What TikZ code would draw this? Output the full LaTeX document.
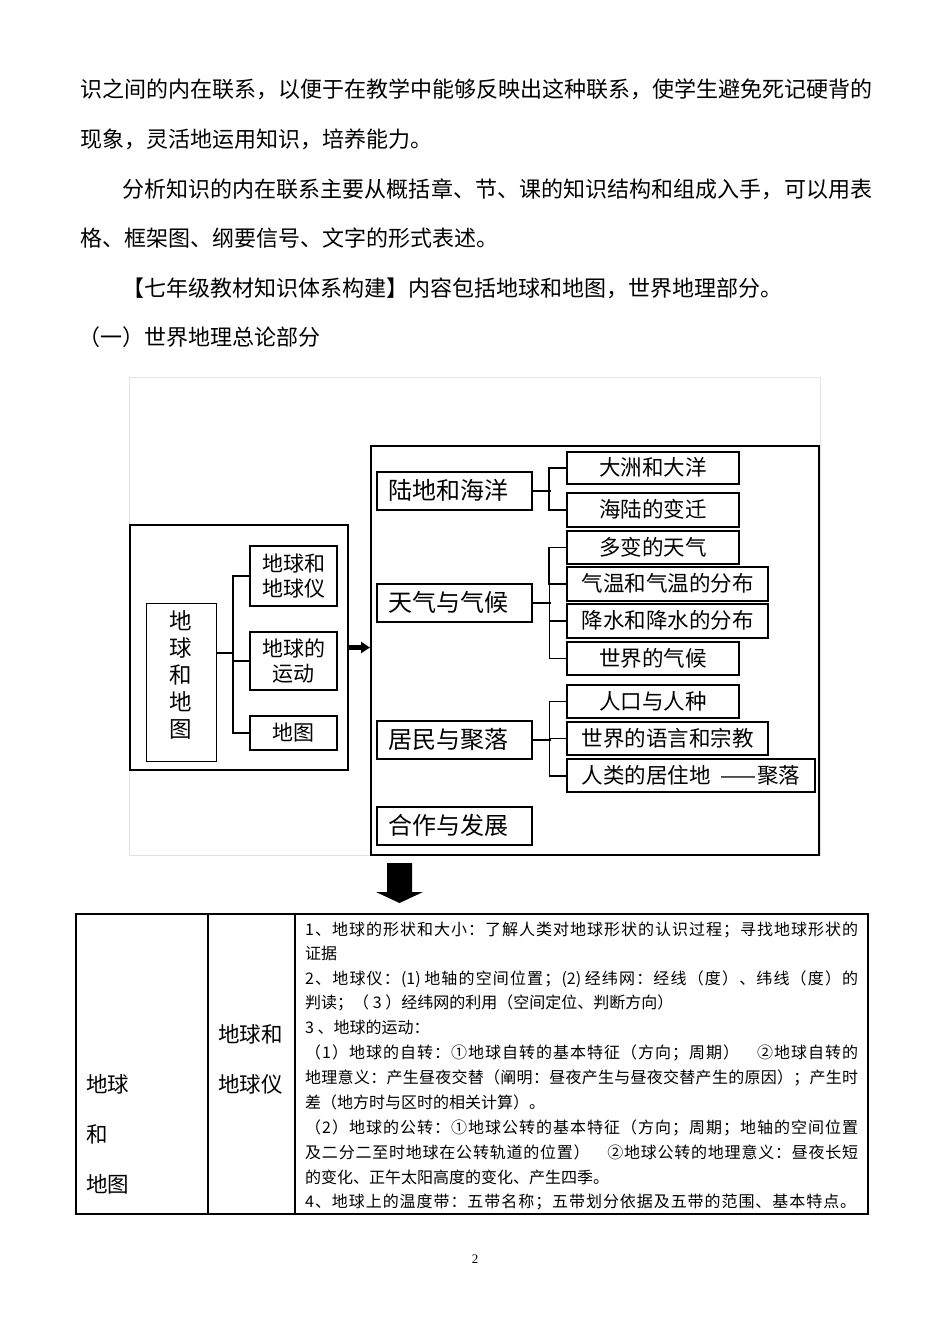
\documentclass[tikz,border=0pt]{standalone}
\usepackage{fontspec}
\setmainfont{Noto Sans CJK SC}
\newfontfamily\serifnum{Liberation Serif}
\usetikzlibrary{arrows.meta}
\newcount\cjkc
\def\setcls#1#2{\cjkc=#1 \loop\XeTeXcharclass\cjkc=1 \advance\cjkc by 1 \ifnum\cjkc<#2 \repeat}
\setcls{"4E00}{"A000}
\setcls{"3000}{"3040}
\setcls{"FF00}{"FFF0}
\setcls{"2460}{"2474}
\XeTeXinterchartoks 1 1 = {\hskip 0pt plus 1fil}
\XeTeXinterchartoks 0 1 = {\hskip 0pt plus 1fil}
\XeTeXinterchartoks 1 0 = {\hskip 0pt plus 1fil}
\newcommand\jl[2]{\hbox to #1pt{\XeTeXinterchartokenstate=1 #2}}
\newcommand\fs[2]{\fontsize{#1}{#2}\selectfont}
\tikzset{
  frame/.style={draw, inner sep=0pt},
  bx/.style={draw, line width=1.3pt, inner sep=0pt, align=center},
  cat/.style={draw, line width=1.4pt, inner ysep=0pt, inner xsep=11pt, text width=133pt, align=left,
     minimum height=38pt, font=\fs{24}{28}, text height=20.4pt, text depth=3.6pt},
  sub/.style={draw, line width=1.3pt, inner sep=0pt, font=\fs{21.5}{25}, text height=18.3pt, text depth=3.2pt},
  conn/.style={line width=1.3pt},
  para/.style={anchor=west, inner sep=0pt, font=\fs{22}{26}, text height=18.7pt, text depth=3.3pt},
  tl/.style={anchor=west, inner sep=0pt, font=\fs{16}{19}, text height=13.6pt, text depth=2.4pt},
  cell/.style={draw, line width=1.1pt, inner sep=0pt},
}
\begin{document}
\begin{tikzpicture}[x=1pt,y=-1pt]
\fill[white] (0,0) rectangle (950,1344);
\useasboundingbox (0,0) rectangle (950,1344);

% paragraph text
\node[para] (p1) at (80,90) {\jl{792}{识之间的内在联系，以便于在教学中能够反映出这种联系，使学生避免死记硬背的}};
\node[para] (p2) at (80,140) {现象，灵活地运用知识，培养能力。};
\node[para] (p3) at (122,189.5) {\jl{750}{分析知识的内在联系主要从概括章、节、课的知识结构和组成入手，可以用表}};
\node[para] (p4) at (80,239) {格、框架图、纲要信号、文字的形式表述。};
\node[para] (p5) at (122,289) {【七年级教材知识体系构建】内容包括地球和地图，世界地理部分。};
\node[para] (p6) at (78,338) {（一）世界地理总论部分};

% faint frame
\draw[gray!22, line width=0.8pt] (129,377) rectangle (820,855);

% left group
\node[frame, line width=1.6pt, minimum width=218pt, minimum height=245pt] (lg) at (239,647.5) {};
\node[frame, line width=0.9pt, minimum width=70pt, minimum height=158pt] (dq) at (181,682) {};
\node[inner sep=0pt, align=center, font=\fs{22.5}{27}] (dqt) at (181,675) {地\\球\\和\\地\\图};
\node[bx, minimum width=87pt, minimum height=60pt, font=\fs{21}{25}] (dqy) at (293.5,576) {地球和\\地球仪};
\node[bx, minimum width=87pt, minimum height=58pt, font=\fs{21}{25}] (dqyd) at (293.5,661) {地球的\\运动};
\node[bx, minimum width=87pt, minimum height=34pt, font=\fs{21}{25}, text height=17.9pt, text depth=3.1pt] (dt) at (293.5,733) {地图};
\coordinate (j0) at (233,653);
\draw[conn] (dq.east |- j0) -- (j0);
\draw[conn] (dqy.west) -- (dqy.west -| j0) -- (dt.west -| j0) -- (dt.west);
\draw[line width=2pt] (dqyd.west) -- (dqyd.west -| j0);

% big box
\node[frame, line width=2pt, minimum width=448pt, minimum height=409pt] (big) at (595,650.5) {};
\draw[line width=4.5pt, -{Triangle[length=9pt,width=11pt]}] (lg.east) -- (lg.east -| big.west);

% categories
\node[cat] (c1) at (454.5,491) {陆地和海洋};
\node[cat] (c2) at (454.5,603) {天气与气候};
\node[cat] (c3) at (454.5,740) {居民与聚落};
\node[cat] (c4) at (454.5,826) {合作与发展};

% sub boxes
\node[sub, minimum width=172pt, minimum height=32pt] (s1) at (653,468) {大洲和大洋};
\node[sub, minimum width=172pt, minimum height=34pt] (s2) at (653,510) {海陆的变迁};
\node[sub, minimum width=172pt, minimum height=33pt] (s3) at (653,547.5) {多变的天气};
\node[sub, line width=1.8pt, minimum width=201pt, minimum height=34pt] (s4) at (667.5,584) {气温和气温的分布};
\node[sub, minimum width=201pt, minimum height=34pt] (s5) at (667.5,621) {降水和降水的分布};
\node[sub, minimum width=172pt, minimum height=33pt] (s6) at (653,658.5) {世界的气候};
\node[sub, minimum width=172pt, minimum height=33pt] (s7) at (653,701.5) {人口与人种};
\node[sub, minimum width=201pt, minimum height=33pt] (s8) at (667.5,738.5) {世界的语言和宗教};
\node[sub, line width=1.8pt, minimum width=248pt, minimum height=33pt] (s9) at (691,775.5) {人类的居住地\hspace{10pt}——聚落};

% connectors
\draw[line width=1.8pt] (c1.east) -- ++(18,0);
\draw[line width=1.8pt] (s1.west) -- ++(-17,0) |- (s2.west);
\draw[conn] (c2.east) -- ++(18,0);
\draw[line width=1.8pt] (s3.west) -- ++(-17,0) -- ++(0,37);
\draw[conn] (s3.west) ++(-17,37) |- (s6.west);
\draw[line width=1.8pt] (s4.west) -- ++(-17,0);
\draw[conn] (s5.west) -- ++(-17,0);
\draw[conn] (c3.east) -- ++(18,0);
\draw[conn] (s7.west) -- ++(-17,0) |- (s9.west);
\draw[conn] (s8.west) -- ++(-17,0);
\draw[line width=2pt] (s9.west) -- ++(-17,0);

% big down arrow
\fill (387,863) -- (412,863) -- (412,892) -- (423,892) -- (399.5,903) -- (376,892) -- (387,892) -- cycle;

% table
\node[cell, minimum width=132pt, minimum height=300pt] (t1) at (142,1064) {};
\node[cell, minimum width=87pt, minimum height=300pt] (t2) at (251.5,1064) {};
\node[cell, minimum width=573pt, minimum height=300pt] (t3) at (581.5,1064) {};

\node[para, font=\fs{21.5}{25}] (a1) at (86,1085) {地球};
\node[para, font=\fs{21.5}{25}] (a2) at (86,1135) {和};
\node[para, font=\fs{21.5}{25}] (a3) at (86,1185) {地图};
\node[para, font=\fs{21.5}{25}] (b1) at (218,1035) {地球和};
\node[para, font=\fs{21.5}{25}] (b2) at (218,1085) {地球仪};

\node[tl] (l1) at (305,930) {\jl{553}{1、地球的形状和大小：了解人类对地球形状的认识过程；寻找地球形状的}};
\node[tl] (l2) at (305,954) {证据};
\node[tl] (l3) at (305,979) {\jl{553}{2、地球仪：(1) 地轴的空间位置；(2) 经纬网：经线（度）、纬线（度）的}};
\node[tl] (l4) at (305,1003) {判读；（ 3 ）经纬网的利用（空间定位、判断方向）};
\node[tl] (l5) at (305,1028) {3 、地球的运动：};
\node[tl] (l6) at (305,1053) {\jl{553}{（1）地球的自转：①地球自转的基本特征（方向；周期）　②地球自转的}};
\node[tl] (l7) at (305,1078) {\jl{553}{地理意义：产生昼夜交替（阐明：昼夜产生与昼夜交替产生的原因）；产生时}};
\node[tl] (l8) at (305,1103) {差（地方时与区时的相关计算）。};
\node[tl] (l9) at (305,1128) {\jl{553}{（2）地球的公转：①地球公转的基本特征（方向；周期；地轴的空间位置}};
\node[tl] (l10) at (305,1153) {\jl{553}{及二分二至时地球在公转轨道的位置）　②地球公转的地理意义：昼夜长短}};
\node[tl] (l11) at (305,1178) {的变化、正午太阳高度的变化、产生四季。};
\node[tl] (l12) at (305,1202) {\jl{551}{4、地球上的温度带：五带名称；五带划分依据及五带的范围、基本特点。}};

\node[inner sep=0pt, font=\serifnum\fs{13}{15}] (pg) at (475,1259) {2};
\end{tikzpicture}
\end{document}
